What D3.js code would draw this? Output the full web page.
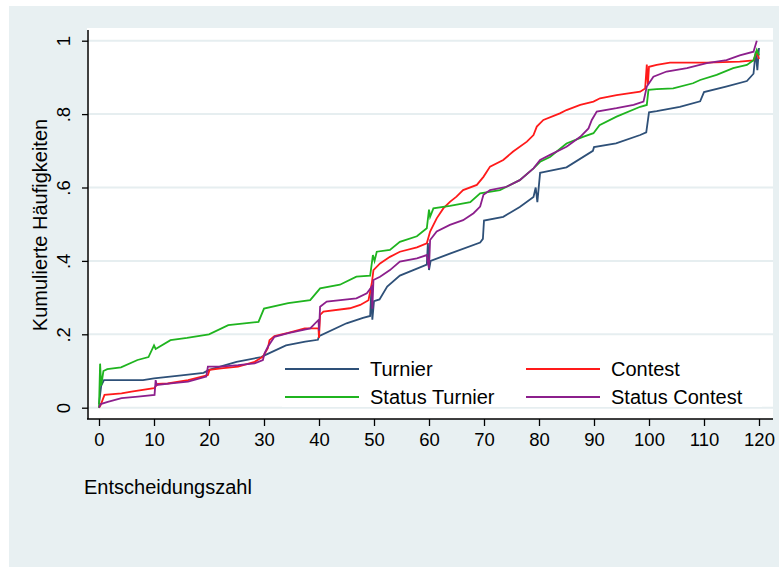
<!DOCTYPE html>
<html><head><meta charset="utf-8">
<script src="https://cdn.jsdelivr.net/npm/d3@7/dist/d3.min.js"></script>
<style>body{margin:0;background:#fff;} text{font-family:Arial,"Liberation Sans",sans-serif;}</style>
</head><body><svg id="c" width="779" height="569"></svg>
<script>
const xTicks = [0,10,20,30,40,50,60,70,80,90,100,110,120];
const yTicks = [0,0.2,0.4,0.6,0.8,1];
const yTickLabels = ["0",".2",".4",".6",".8","1"];
const seriesNames = ["Turnier","Contest","Status Turnier","Status Contest"];
const seriesColors = ["#2e5078","#ff1a1a","#1fb41f","#8c1f8c"];

const turnier = [[0,0.01],[0.4,0.06],[0.9,0.075],[8,0.075],[10,0.08],[15,0.088],[19,0.095],[20,0.103],[25,0.125],[29.5,0.138],[30,0.142],[34,0.17],[37.5,0.18],[39.8,0.185],[40,0.195],[45,0.23],[48,0.245],[49.3,0.25],[49.5,0.315],[49.7,0.24],[50,0.29],[51,0.295],[52.4,0.33],[54.7,0.36],[59.6,0.39],[59.8,0.449],[60,0.375],[60.3,0.40],[63.8,0.42],[69.3,0.45],[69.8,0.46],[70,0.51],[73.5,0.52],[76.5,0.547],[79,0.574],[79.4,0.6],[79.7,0.56],[80.2,0.64],[80.8,0.642],[85,0.655],[89.8,0.70],[90,0.71],[94,0.72],[98.4,0.743],[99.5,0.75],[100,0.805],[101.4,0.808],[105.6,0.82],[109.3,0.835],[110,0.86],[114,0.875],[117.8,0.89],[119,0.91],[119.4,0.97],[119.7,0.92],[120,0.98]];
const contest = [[0,0.0],[0.3,0.007],[1,0.035],[4.1,0.039],[5.9,0.044],[10,0.053],[10.7,0.065],[12.5,0.066],[16.2,0.075],[19.8,0.089],[20.1,0.103],[22.2,0.107],[25.3,0.112],[28.3,0.125],[29.8,0.139],[30.7,0.162],[31,0.184],[31.9,0.195],[34.4,0.204],[37.4,0.216],[39.9,0.216],[40,0.19],[40.2,0.253],[40.8,0.262],[45.6,0.271],[47.5,0.28],[49,0.293],[49.6,0.339],[49.9,0.375],[51.1,0.393],[52.9,0.411],[54.7,0.425],[57.8,0.437],[59.6,0.448],[60.2,0.48],[61.4,0.516],[62.6,0.543],[63.8,0.561],[65,0.575],[66.2,0.593],[68.7,0.607],[69.9,0.629],[71.1,0.657],[73.5,0.675],[75.3,0.698],[77.8,0.725],[79,0.743],[79.6,0.766],[80.8,0.784],[83.8,0.802],[85,0.811],[87.5,0.825],[89.9,0.834],[91.1,0.843],[94.1,0.852],[98.4,0.861],[99.3,0.87],[99.6,0.935],[99.8,0.88],[100,0.929],[101.4,0.934],[103.8,0.94],[110.5,0.94],[116.5,0.943],[119,0.946],[119.6,0.97],[120,0.95]];
const statusTurnier = [[0,0.0],[0.2,0.12],[0.4,0.06],[0.8,0.1],[1.5,0.105],[4,0.11],[7,0.13],[9,0.138],[10,0.17],[10.3,0.16],[13,0.184],[16,0.19],[20,0.2],[23.5,0.225],[29,0.234],[30,0.27],[34.4,0.285],[38.4,0.293],[40.2,0.325],[43.8,0.335],[46.8,0.357],[49.3,0.36],[49.8,0.416],[50.1,0.40],[50.5,0.425],[52.9,0.43],[54.7,0.452],[57.8,0.467],[59.6,0.489],[60,0.54],[60.2,0.52],[60.8,0.543],[63.8,0.55],[67.5,0.56],[69.3,0.584],[72.9,0.593],[76.5,0.62],[79,0.652],[80.2,0.67],[82,0.683],[85,0.72],[88,0.738],[89.9,0.748],[91,0.77],[94.1,0.793],[98.4,0.82],[99.6,0.825],[99.9,0.866],[101.4,0.868],[104.4,0.87],[108,0.884],[109.3,0.893],[112.3,0.907],[115.3,0.925],[117.8,0.934],[119,0.947],[119.6,0.975],[120,0.96]];
const statusContest = [[0,0.0],[0.3,0.01],[1.6,0.016],[4.1,0.026],[7.1,0.03],[10.1,0.035],[10.3,0.075],[10.5,0.062],[13.1,0.066],[16.2,0.071],[19.5,0.085],[19.8,0.112],[22.2,0.112],[25.3,0.116],[28.3,0.121],[29.8,0.13],[30.1,0.148],[30.7,0.166],[31.9,0.193],[34.4,0.203],[38.4,0.216],[39.9,0.239],[40,0.21],[40.2,0.275],[41.4,0.289],[46.8,0.298],[48.7,0.312],[49.6,0.33],[49.7,0.27],[49.9,0.348],[51.1,0.357],[52.9,0.375],[54.7,0.398],[57.8,0.407],[59.6,0.416],[60,0.38],[60.2,0.457],[61.4,0.48],[63.8,0.498],[66.2,0.511],[68.1,0.53],[69.3,0.548],[69.9,0.58],[71.1,0.593],[74.1,0.602],[76.5,0.62],[79,0.652],[80.2,0.675],[82,0.689],[85,0.711],[87.5,0.738],[89,0.761],[89.6,0.784],[90.5,0.807],[94.1,0.816],[97.2,0.825],[99,0.834],[99.6,0.875],[100.8,0.902],[103.2,0.916],[106.9,0.925],[110.5,0.939],[114.1,0.947],[116.5,0.96],[119,0.97],[119.6,1.0]];
const seriesData = [turnier, contest, statusTurnier, statusContest];

const svg = d3.select("#c");
// background panel
svg.append("rect").attr("x",9).attr("y",6).attr("width",770).attr("height",561).attr("fill","#e8f0f2");
// plot region
svg.append("rect").attr("x",87).attr("y",28).attr("width",686).attr("height",391).attr("fill","#ffffff");

const x = d3.scaleLinear().domain([0,120]).range([99,759]);
const y = d3.scaleLinear().domain([0,1]).range([407.7,40.7]);

// gridlines
svg.append("g").selectAll("line").data(yTicks).join("line")
  .attr("x1",88).attr("x2",773).attr("y1",d=>y(d)).attr("y2",d=>y(d))
  .attr("stroke","#e6eef0").attr("stroke-width",2);

// lines
const line = d3.line().x(d=>x(d[0])).y(d=>y(d[1]));
seriesData.forEach((s,i)=>{
  svg.append("path").datum(s).attr("d",line).attr("fill","none")
    .attr("stroke",seriesColors[i]).attr("stroke-width",1.8).attr("stroke-linejoin","miter");
});

// x axis
const xAxis = d3.axisBottom(x).tickValues(xTicks).tickSize(7).tickPadding(7).tickFormat(d3.format("d"));
const gx = svg.append("g").attr("transform","translate(0,419)").call(xAxis);
gx.select(".domain").remove();
gx.selectAll("line").attr("stroke","#000").attr("stroke-width",1.3);
gx.selectAll("text").attr("font-size",18.5).attr("fill","#000").attr("font-family","Arial, 'Liberation Sans', sans-serif");
svg.append("line").attr("x1",87).attr("x2",773).attr("y1",419).attr("y2",419).attr("stroke","#000").attr("stroke-width",1.5);

// y axis
const yAxis = d3.axisLeft(y).tickValues(yTicks).tickSize(6).tickFormat((d,i)=>yTickLabels[i]);
const gy = svg.append("g").attr("transform","translate(88,0)").call(yAxis);
gy.select(".domain").remove();
gy.selectAll("line").attr("stroke","#000").attr("stroke-width",1.3);
gy.selectAll("text").attr("transform","rotate(-90)").attr("x",0).attr("y",-18).attr("dy",0)
  .attr("text-anchor","middle").attr("font-size",18.5).attr("fill","#000").attr("font-family","Arial, 'Liberation Sans', sans-serif");
svg.append("line").attr("x1",88).attr("x2",88).attr("y1",30).attr("y2",419).attr("stroke","#000").attr("stroke-width",1.5);

// axis titles
svg.append("text").attr("x",84).attr("y",494).attr("font-size",20).attr("fill","#000").text("Entscheidungszahl");
svg.append("text").attr("transform","translate(47,225) rotate(-90)").attr("text-anchor","middle")
  .attr("font-size",20).attr("fill","#000").text("Kumulierte Häufigkeiten");

// legend
const lg = svg.append("g");
lg.append("rect").attr("x",282).attr("y",352).attr("width",480).attr("height",55).attr("fill","#fff");
const legX = [285,526], legY = [369,397];
seriesNames.forEach((n,i)=>{
  const cx = legX[i%2], cy = legY[Math.floor(i/2)];
  lg.append("line").attr("x1",cx).attr("x2",cx+74).attr("y1",cy).attr("y2",cy)
    .attr("stroke",seriesColors[i]).attr("stroke-width",1.8);
  lg.append("text").attr("x",cx+85).attr("y",cy+7).attr("font-size",20).attr("fill","#000").text(n);
});
</script></body></html>
